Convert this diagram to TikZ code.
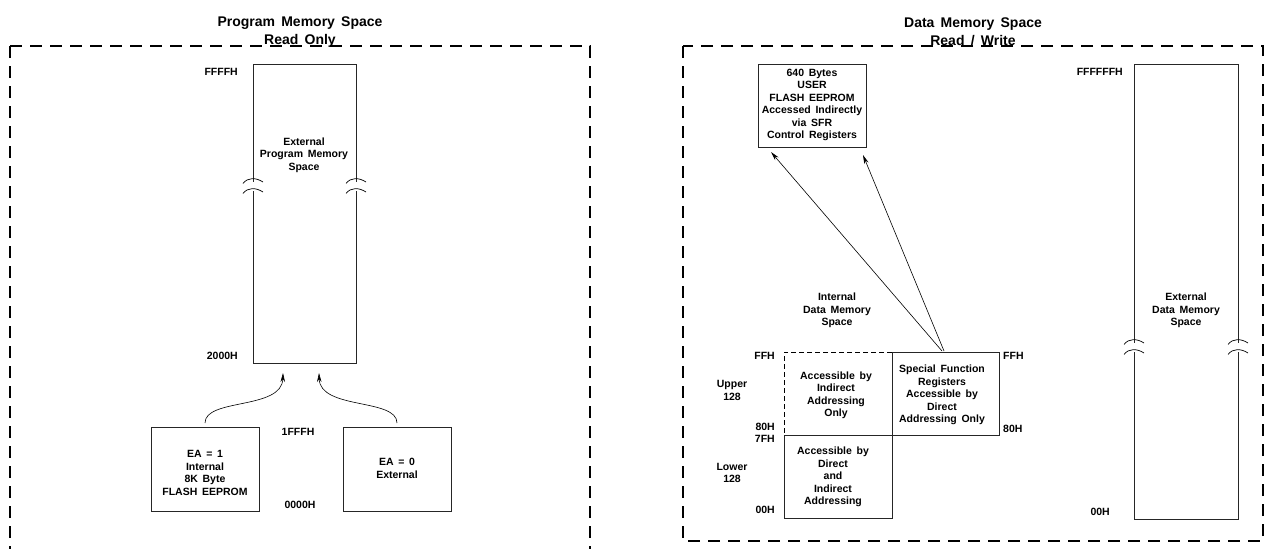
\documentclass[tikz,border=0pt]{standalone}
\usepackage{fontspec}
\setmainfont[WordSpace=1.6]{Liberation Sans}
\usetikzlibrary{arrows.meta}
\newcommand\brkmark[2]{%
  \fill[white] (#1-2,#2-4.5) rectangle (#1+2,#2+4.5);
  \draw[line width=0.7pt] (#1-10,#2-2.5) .. controls (#1-5,#2-9) and (#1+3,#2-8.5) .. (#1+10,#2-4);
  \draw[line width=0.7pt] (#1-10,#2+7.5) .. controls (#1-5,#2+1) and (#1+3,#2+1.5) .. (#1+10,#2+6);
}
\begin{document}
\begin{tikzpicture}[x=1pt,y=-1pt,
  lbl/.style={font=\fontsize{10.5}{12.5}\selectfont\bfseries, inner sep=0pt, align=center},
  ttl/.style={font=\fontsize{14}{17.5}\selectfont\bfseries, inner sep=0pt, align=center},
  box/.style={draw=black!85, line width=0.8pt, inner sep=0pt, outer sep=0pt},
  panel/.style={draw=black, line width=1.1pt, dash pattern=on 12pt off 8pt},
  arr/.style={draw=black, line width=0.6pt, -{Stealth[length=9pt,width=4.5pt]}},
]
\useasboundingbox (0,0) rectangle (1268,549);

% ---------- Program memory panel ----------
\node[ttl] (pt) at (300,32) {Program Memory Space\\Read Only};
\draw[panel] (10,46) -- (10,549);
\draw[panel] (10,46) -- (590,46) -- (590,549);

\node[box, minimum width=103, minimum height=299] (pext) at (304.5,213.5) {};
\node[lbl] (pextt) at (304,155) {External\\Program Memory\\Space};
\brkmark{253}{186}
\brkmark{356}{186}
\node[lbl, anchor=east] (lffff) at (238,72) {FFFFH};
\node[lbl, anchor=east] (l2000) at (238,356) {2000H};

\node[box, minimum width=108, minimum height=84] (ea1) at (205,469) {};
\node[lbl] (ea1t) at (205,473) {EA = 1\\Internal\\8K Byte\\FLASH EEPROM};
\node[box, minimum width=108, minimum height=84] (ea0) at (397,469) {};
\node[lbl] (ea0t) at (397,468.5) {EA = 0\\External};
\node[lbl] (l1fff) at (298,432) {1FFFH};
\node[lbl] (l0000) at (300,505) {0000H};

\draw[arr] ([yshift=4pt]ea1.north) .. controls +(0,-25) and +(-1,37) .. ([xshift=-21.5pt,yshift=-10pt]pext.south);
\draw[arr] ([yshift=4pt]ea0.north) .. controls +(0,-25) and +(1,37) .. ([xshift=14.5pt,yshift=-10pt]pext.south);

% ---------- Data memory panel ----------
\node[ttl] (dt) at (973,32) {Data Memory Space\\Read / Write};
\draw[panel] (683,46) rectangle (1263,541);

\node[box, minimum width=108, minimum height=83] (flash) at (812,105.5) {};
\node[lbl] (flasht) at (812,105) {640 Bytes\\USER\\FLASH EEPROM\\Accessed Indirectly\\via SFR\\Control Registers};

\node[lbl] (intt) at (837,310.5) {Internal\\Data Memory\\Space};

\node[box, minimum width=107, minimum height=83] (sfr) at (945.5,393.5) {};
\node[box, minimum width=108, minimum height=83] (low) at (838,476.5) {};
\coordinate (ucorner) at (784,352);
\draw[line width=0.8pt, dash pattern=on 5pt off 3pt] (sfr.north west) -- (ucorner) -- (low.north west);

\node[lbl] (sfrt) at (942,395) {Special Function\\Registers\\Accessible by\\Direct\\Addressing Only};
\node[lbl] (uppt) at (836,395.5) {Accessible by\\Indirect\\Addressing\\Only};
\node[lbl] (lowt) at (833,477) {Accessible by\\Direct\\and\\Indirect\\Addressing};

\node[lbl, anchor=east] (lffh) at (775,356) {FFH};
\node[lbl, anchor=east] (l80h) at (775,427) {80H};
\node[lbl, anchor=east] (l7fh) at (775,439) {7FH};
\node[lbl, anchor=east] (l00h) at (775,510) {00H};
\node[lbl] (upp) at (732,390.5) {Upper\\128};
\node[lbl] (lowr) at (732,473) {Lower\\128};
\node[lbl, anchor=west] (rffh) at (1003,356) {FFH};
\node[lbl, anchor=west] (r80h) at (1003,429) {80H};

\draw[arr] ([xshift=-3.5pt,yshift=1pt]sfr.north) -- ([xshift=-41pt,yshift=-5pt]flash.south);
\draw[arr] ([xshift=-1.5pt,yshift=1pt]sfr.north) -- ([xshift=51pt,yshift=-8pt]flash.south);

\node[box, minimum width=104, minimum height=455] (dext) at (1186,291.5) {};
\node[lbl] (dextt) at (1186,310.5) {External\\Data Memory\\Space};
\brkmark{1134}{347}
\brkmark{1238}{347}
\node[lbl, anchor=east] (lfff6) at (1123,72) {FFFFFFH};
\node[lbl, anchor=east] (l00h2) at (1110,512) {00H};
\end{tikzpicture}
\end{document}
